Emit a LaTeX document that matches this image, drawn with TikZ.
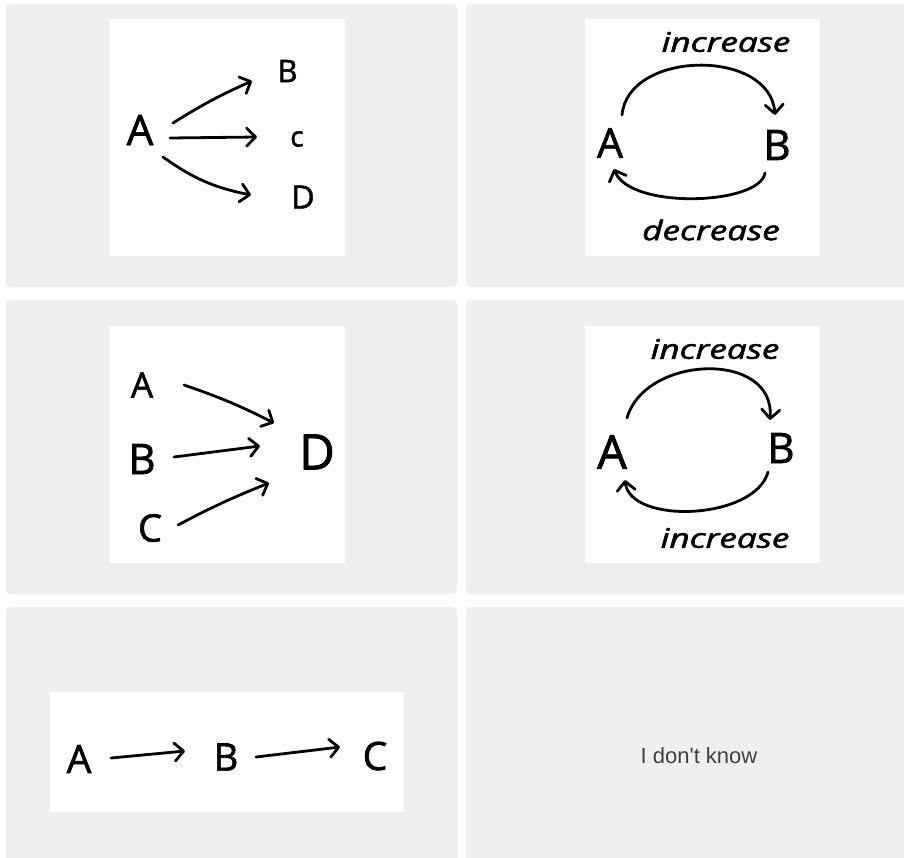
\documentclass[tikz,border=0pt]{standalone}
\usepackage{fontspec}
\usepackage{graphicx}
\setmainfont{Open Sans}[FakeBold=1.6,ItalicFeatures={FakeBold=1.6}]
\newfontfamily\uifont{Liberation Sans}
\usetikzlibrary{arrows.meta}
\definecolor{panelgray}{RGB}{239,239,239}
\definecolor{uitext}{RGB}{64,64,64}
\newcommand\hsz[1]{\fontsize{#1}{#1}\selectfont}
\newcommand\lbl[2]{\scalebox{1.3}[1]{\hsz{#1}\itshape #2}}
\begin{document}
\begin{tikzpicture}[x=1pt,y=-1pt,
  panel/.style={fill=panelgray, rounded corners=4pt},
  card/.style={fill=white},
  hand/.style={inner sep=0pt, anchor=center, text=black},
  arr/.style={line width=2.8pt, line cap=round, line join=round,
    -{Straight Barb[length=9pt,width=18pt,line cap=round,line join=round]}},
]
\fill[white] (0,0) rectangle (904,857);
\clip (0,0) rectangle (904,857);
\useasboundingbox (0,0) rectangle (904,857);

% panels
\fill[panel] (6,4) rectangle (457,287);
\fill[panel] (466,4) rectangle (910,287);
\fill[panel] (6,300) rectangle (457,594);
\fill[panel] (466,300) rectangle (910,594);
\fill[panel] (6,607) rectangle (457,865);
\fill[panel] (466,607) rectangle (910,865);

% cards
\fill[card] (109,19) rectangle (345,256);
\fill[card] (585,19) rectangle (820,256);
\fill[card] (109,326) rectangle (345,563);
\fill[card] (585,326) rectangle (820,563);
\fill[card] (50,692) rectangle (404,812);

% ---- panel 1: A -> B, C, D
\node[hand] (A1) at (140,130) {\hsz{42}A};
\node[hand] (B1) at (287.5,71) {\hsz{31}B};
\node[hand] (C1) at (297,139) {\hsz{28}c};
\node[hand] (D1) at (303,197) {\hsz{32}D};
\draw[arr] ([shift={(33,-7)}]A1.center) to[bend left=4] ([shift={(-35.5,10)}]B1.center);
\draw[arr] ([shift={(30,8)}]A1.center) -- ([shift={(-40,-2)}]C1.center);
\draw[arr] ([shift={(23,27)}]A1.center) to[bend right=12] ([shift={(-52,-2)}]D1.center);

% ---- panel 2: A <-> B increase / decrease
\node[hand] (A2) at (610,143) {\hsz{41}A};
\node[hand] (B2) at (777,145) {\hsz{42}B};
\node[hand] (inc2) at (726,42) {\lbl{27}{increase}};
\node[hand] (dec2) at (711,230) {\lbl{27}{decrease}};
\draw[arr] ([shift={(12,-28)}]A2.center) .. controls (628,50) and (770,48) .. ([shift={(-2,-30)}]B2.center);
\draw[arr] ([shift={(-12,28)}]B2.center) .. controls (760,205) and (630,210) .. ([shift={(4,26)}]A2.center);

% ---- panel 3: A, B, C -> D
\node[hand] (A3) at (142,385) {\hsz{35}A};
\node[hand] (B3) at (142,459) {\hsz{42}B};
\node[hand] (C3) at (150,528) {\hsz{38}C};
\node[hand] (D3) at (317,452) {\hsz{49}D};
\draw[arr] ([shift={(42,0)}]A3.center) to[bend left=4] ([shift={(-43,-29)}]D3.center);
\draw[arr] ([shift={(32,-2)}]B3.center) -- ([shift={(-57,-6)}]D3.center);
\draw[arr] ([shift={(28,-3)}]C3.center) to[bend left=3] ([shift={(-48,31)}]D3.center);

% ---- panel 4: A <-> B increase / increase
\node[hand] (A4) at (612,452) {\hsz{47}A};
\node[hand] (B4) at (781,448) {\hsz{42}B};
\node[hand] (inc4a) at (715,349) {\lbl{27}{increase}};
\node[hand] (inc4b) at (725,538) {\lbl{27}{increase}};
\draw[arr] ([shift={(15,-34)}]A4.center) .. controls (645,355) and (775,350) .. ([shift={(-11,-28)}]B4.center);
\draw[arr] ([shift={(-13,24)}]B4.center) .. controls (755,520) and (630,525) .. ([shift={(13,28)}]A4.center);

% ---- panel 5: A -> B -> C
\node[hand] (A5) at (79,759) {\hsz{39}A};
\node[hand] (B5) at (226,757) {\hsz{38}B};
\node[hand] (C5) at (375,756) {\hsz{39}C};
\draw[arr] ([shift={(32,-1)}]A5.center) -- ([shift={(-41,-6)}]B5.center);
\draw[arr] ([shift={(30,0)}]B5.center) -- ([shift={(-35,-9)}]C5.center);

% ---- panel 6
\node[inner sep=0pt, text=uitext, font=\uifont\hsz{22}] (idk) at (699,756) {I don't know};
\end{tikzpicture}
\end{document}
